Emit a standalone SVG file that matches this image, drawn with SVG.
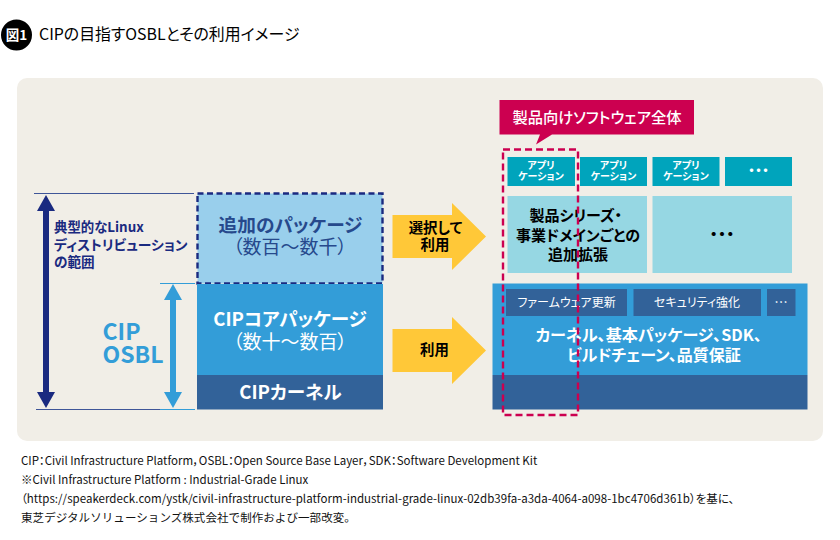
<svg xmlns="http://www.w3.org/2000/svg" width="840" height="540" viewBox="0 0 840 540">
<style>
text{font-family:"Noto Sans CJK JP","Noto Sans",sans-serif;font-feature-settings:"palt";}
.m{text-anchor:middle}
.b{font-weight:700}
.w{fill:#fff}
.k{fill:#000}
.n{fill:#1a2a80}
.app{fill:#00a4bc}
.lt{fill:#96d7e3}
.core{fill:#339dd8}
.dk{fill:#326299}
.ye{fill:#ffc838}
.ft{font-size:11.500px;fill:#111}
.el{font-feature-settings:normal}
</style>
<rect width="840" height="540" fill="#fff"/>
<rect x="17" y="78" width="806" height="363" rx="10" fill="#f1eee7"/>
<g id="title">
<circle cx="16.500" cy="35" r="15.500" fill="#000"/>
<text x="16.500" y="40" class="m b w" font-size="13.500">図1</text>
<text x="39" y="39.500" font-size="15.900" class="k">CIPの目指すOSBLとその利用イメージ</text>
</g>
<g id="connectors">
<path d="M34 193.500H194" stroke="#3f5598" stroke-width="1" fill="none"/>
<path d="M36 409.500H195" stroke="#3f5598" stroke-width="1" fill="none"/>
<path d="M160 283.500H195M160 409.500H195" stroke="#339dd8" stroke-width="1" fill="none"/>
<path class="n" d="M46 195L55 211H49V392H55L46 408L37 392H43V211H37Z"/>
<path class="core" d="M173 284L182 300H176V392H182L173 408L164 392H170V300H164Z"/>
<path class="ye" d="M392.500 215H452V203L486 236.500L452 270V258H392.500Z"/>
<path class="ye" d="M392.500 329H452V317L486 350.500L452 384V372H392.500Z"/>
</g>
<g id="range-label">
<text x="54" y="232" class="b n" font-size="13.400">典型的なLinux</text>
<text x="54" y="250" class="b n" font-size="13.800">ディストリビューション</text>
<text x="54" y="267" class="b n" font-size="13.600">の範囲</text>
</g>
<g id="osbl-label">
<text x="102.500" y="340" class="b" font-size="23" fill="#339dd8">CIP</text>
<text x="102.500" y="363" class="b" font-size="23" fill="#339dd8">OSBL</text>
</g>
<g id="extra-packages">
<rect x="197.500" y="193.500" width="185" height="90" fill="#99cfec" stroke="#1a2a80" stroke-width="2.400" stroke-dasharray="6 3.500"/>
<text x="290.500" y="232" class="m b" font-size="18.700" fill="#26498c">追加のパッケージ</text>
<text x="290" y="254" class="m" font-size="19" fill="#26498c">（数百～数千）</text>
</g>
<g id="core-packages">
<rect x="197" y="284" width="186" height="91" class="core"/>
<text x="290" y="326" class="m b w" font-size="18.600">CIPコアパッケージ</text>
<text x="290" y="349" class="m w" font-size="19">（数十～数百）</text>
</g>
<g id="kernel">
<rect x="197" y="375" width="186" height="34.500" class="dk"/>
<text x="290.500" y="399" class="m b w" font-size="18.600">CIPカーネル</text>
</g>
<g id="arrow-labels">
<text x="435.500" y="233" class="m b k" font-size="14.400">選択して</text>
<text x="435" y="250" class="m b k" font-size="14.400">利用</text>
<text x="434.500" y="355" class="m b k" font-size="14.400">利用</text>
</g>
<g id="callout">
<path d="M499.500 100H694V134.500H552L536 144.500L540 134.500H499.500Z" fill="#cc0050"/>
<text x="597" y="123" class="m w" font-size="15.300" font-weight="500">製品向けソフトウェア全体</text>
</g>
<g id="app1"><rect x="507.500" y="157" width="67.500" height="29" class="app"/><text x="541" y="169" class="m b w" font-size="10">アプリ</text><text x="541" y="180" class="m b w" font-size="10">ケーション</text></g>
<g id="app2"><rect x="580" y="157" width="67" height="29" class="app"/><text x="613.500" y="169" class="m b w" font-size="10">アプリ</text><text x="613.500" y="180" class="m b w" font-size="10">ケーション</text></g>
<g id="app3"><rect x="652.500" y="157" width="67" height="29" class="app"/><text x="686" y="169" class="m b w" font-size="10">アプリ</text><text x="686" y="180" class="m b w" font-size="10">ケーション</text></g>
<g id="app4"><rect x="725" y="157" width="67" height="29" class="app"/><text x="758.500" y="178" class="m b w el" font-size="21">…</text></g>
<g id="domain"><rect x="507.500" y="196" width="139.500" height="77" class="lt"/>
<text x="529.500" y="221" class="b k" font-size="15">製品シリーズ・</text>
<text x="578" y="241" class="m b k" font-size="15">事業ドメインごとの</text>
<text x="578" y="260" class="m b k" font-size="15">追加拡張</text></g>
<g id="domain-more"><rect x="652.500" y="196" width="139.500" height="77" class="lt"/><text x="722" y="243.500" class="m b k el" font-size="25">…</text></g>
<g id="base"><rect x="492.500" y="283.500" width="315" height="91.500" class="core"/>
<text x="535.500" y="341" class="b w" font-size="16.100">カーネル、基本パッケージ、SDK、</text>
<text x="567" y="361" class="b w" font-size="16">ビルドチェーン、品質保証</text></g>
<g id="base-kernel"><rect x="492.500" y="375" width="315" height="34.500" class="dk"/></g>
<g id="firmware"><rect x="506" y="289" width="121" height="27" class="dk"/><text x="566.500" y="307" class="m w" font-size="12">ファームウェア更新</text></g>
<g id="security"><rect x="633.500" y="289" width="127.500" height="27" class="dk"/><text x="697" y="307" class="m w" font-size="12">セキュリティ強化</text></g>
<g id="more"><rect x="767" y="289" width="28.500" height="27" class="dk"/><text x="781" y="307" class="m w el" font-size="13.500">…</text></g>
<g id="product-scope"><rect x="503" y="149.500" width="75" height="265.500" fill="none" stroke="#cc0050" stroke-width="2.400" stroke-dasharray="7 4"/></g>
<g id="notes">
<text x="21" y="465" class="ft">CIP：Civil Infrastructure Platform，OSBL：Open Source Base Layer，SDK：Software Development Kit</text>
<text x="21" y="484" class="ft">※Civil Infrastructure Platform : Industrial-Grade Linux</text>
<text x="21" y="503" class="ft" letter-spacing="0.030">（https://speakerdeck.com/ystk/civil-infrastructure-platform-industrial-grade-linux-02db39fa-a3da-4064-a098-1bc4706d361b）を基に、</text>
<text x="21" y="522" class="ft el" letter-spacing="0.070">東芝デジタルソリューションズ株式会社で制作および一部改変。</text>
</g>
</svg>
